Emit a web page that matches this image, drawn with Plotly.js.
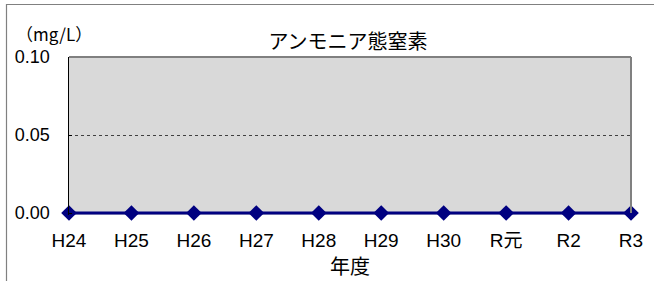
<!DOCTYPE html>
<html>
<head>
<meta charset="utf-8">
<script src="https://cdn.plot.ly/plotly-3.0.1.min.js"></script>
<style>
html,body{margin:0;padding:0;background:#fff;}
#chart{width:654px;height:281px;}
</style>
</head>
<body>
<div id="chart"></div>
<script>
const years = ["H24","H25","H26","H27","H28","H29","H30","R元","R2","R3"];
const ammoniaN = [0,0,0,0,0,0,0,0,0,0];
const yTicks = [0, 0.05, 0.10];
const yTickText = ["0.00","0.05","0.10"];
const chartTitle = "アンモニア態窒素";
const unitLabel = "（mg/L）";
const xTitle = "年度";

const CJK = "'Noto Sans CJK JP', 'Liberation Sans', Arial, sans-serif";
const LAT = "'Liberation Sans', 'Noto Sans CJK JP', Arial, sans-serif";

// plot area: value 0.10 at y=57, value 0 at y=213 (156 px per 0.10); area extends 2px below zero
const L = 69, R = 631, T = 57, B0 = 213, EXT = 2, W = 654, H = 281;
const B = B0 + EXT;
const yMin = -0.10 * EXT / (B0 - T);
const px2x = p => (p - L) / (R - L);
const px2y = p => (B - p) / (B - T);

const trace = {
  x: years,
  y: ammoniaN,
  type: 'scatter',
  mode: 'lines+markers',
  line: {color: '#000080', width: 3},
  marker: {symbol: 'diamond', size: 12, color: '#000080'},
  cliponaxis: false,
  hoverinfo: 'skip'
};

const layout = {
  width: W, height: H,
  margin: {l: L, r: W - R, t: T, b: H - B, pad: 0},
  paper_bgcolor: '#ffffff',
  plot_bgcolor: '#d9d9d9',
  showlegend: false,
  font: {family: LAT, size: 18, color: '#000'},
  title: {
    text: chartTitle,
    font: {family: CJK, size: 20, color: '#000'},
    x: 348 / W, xanchor: 'center',
    y: 1 - 42 / H, yanchor: 'middle'
  },
  xaxis: {
    type: 'category',
    range: [0, years.length - 1],
    showgrid: false,
    zeroline: false,
    showline: false,
    ticks: '',
    tickfont: {family: LAT, size: 19, color: '#000'},
    ticklabelstandoff: 12,
    title: {text: xTitle, font: {family: CJK, size: 20, color: '#000'}, standoff: 0},
    fixedrange: true
  },
  yaxis: {
    range: [yMin, 0.10],
    tickvals: yTicks,
    ticktext: yTickText,
    showgrid: true,
    gridcolor: '#404040',
    griddash: 'dot',
    gridwidth: 1,
    zeroline: false,
    showline: true,
    linecolor: '#000000',
    linewidth: 1.5,
    ticks: 'inside',
    ticklen: 3,
    tickcolor: '#000',
    tickfont: {family: LAT, size: 18, color: '#000'},
    ticklabelstandoff: 14,
    fixedrange: true
  },
  shapes: [
    {type: 'line', xref: 'paper', yref: 'paper', x0: 0, x1: 1, y0: 1, y1: 1, line: {color: '#808080', width: 2}},
    {type: 'line', xref: 'paper', yref: 'paper', x0: 1, x1: 1, y0: px2y(B0), y1: 1, line: {color: '#808080', width: 2}},
    {type: 'line', xref: 'paper', yref: 'paper', x0: px2x(6), x1: px2x(660), y0: px2y(4.5), y1: px2y(4.5), line: {color: '#808080', width: 1.2}},
    {type: 'line', xref: 'paper', yref: 'paper', x0: px2x(6.5), x1: px2x(6.5), y0: px2y(4), y1: px2y(290), line: {color: '#808080', width: 1.2}}
  ],
  annotations: [
    {text: unitLabel, xref: 'paper', yref: 'paper', x: px2x(54), y: px2y(34), xanchor: 'center', yanchor: 'middle', showarrow: false, font: {family: CJK, size: 17, color: '#000'}}
  ]
};

Plotly.newPlot('chart', [trace], layout, {displayModeBar: false, staticPlot: true});
</script>
</body>
</html>
